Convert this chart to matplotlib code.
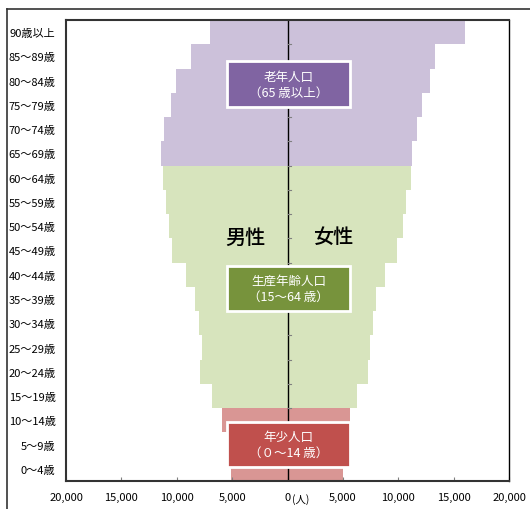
import numpy as np
import matplotlib
matplotlib.use("Agg")
import matplotlib.pyplot as plt
from matplotlib.patches import Rectangle
from matplotlib.lines import Line2D

plt.rcParams['font.family'] = ['Noto Sans CJK JP', 'DejaVu Sans']

# age groups, bottom to top
ages = ["0～4歳", "5～9歳", "10～14歳", "15～19歳", "20～24歳", "25～29歳",
        "30～34歳", "35～39歳", "40～44歳", "45～49歳", "50～54歳", "55～59歳",
        "60～64歳", "65～69歳", "70～74歳", "75～79歳", "80～84歳", "85～89歳",
        "90歳以上"]
male = [5090, 5350, 5900, 6830, 7920, 7680, 7980, 8340, 9180, 10390,
        10720, 10960, 11260, 11410, 11140, 10500, 10080, 8700, 6980]
female = [4970, 5400, 5640, 6300, 7290, 7470, 7710, 8010, 8830, 9880,
          10450, 10690, 11150, 11260, 11690, 12170, 12890, 13340, 16050]

xticks = [-20000, -15000, -10000, -5000, 0, 5000, 10000, 15000, 20000]
xticklabels = ["20,000", "15,000", "10,000", "5,000", "0", "5,000",
               "10,000", "15,000", "20,000"]

# group colours: (bar, label box)
col_young = ("#D99694", "#C0504D")
col_work = ("#D7E4BD", "#77933C")
col_old = ("#CCC1DA", "#8064A2")

fig = plt.figure(figsize=(5.3, 5.1), dpi=100)
ax = fig.add_axes([66 / 530, 28 / 510, 443 / 530, 461 / 510])

y = np.arange(len(ages))
colors = [col_young[0] if i < 3 else (col_work[0] if i < 13 else col_old[0])
          for i in range(len(ages))]
ax.barh(y, -np.array(male), height=1.0, color=colors, zorder=1)
ax.barh(y, female, height=1.0, color=colors, zorder=1)

ax.axvline(0, color="black", lw=1.0, zorder=2)
# small marks on the centre line at row boundaries
for b in y[:-1] + 0.5:
    ax.plot([0, 300], [b, b], color="#808080", lw=0.8, zorder=2)

ax.set_xlim(-20000, 20000)
ax.set_ylim(-0.5, len(ages) - 0.5)
ax.set_yticks(y)
ax.set_yticklabels(ages, fontsize=8)
ax.tick_params(axis="y", length=0, pad=7.5)
ax.set_xticks(xticks)
ax.set_xticklabels(xticklabels, fontsize=8)
ax.tick_params(axis="x", direction="in", length=3, color="#808080", pad=8)
ax.annotate("(人)", xy=(0, 0), xycoords=("data", "axes fraction"),
            xytext=(3.5, -12.5), textcoords="offset points", fontsize=7.5,
            ha="left", va="center")

for side in ["left", "top", "bottom"]:
    ax.spines[side].set_linewidth(1.5)
    ax.spines[side].set_color("#333333")
ax.spines["right"].set_linewidth(1.0)

# group label boxes
boxes = [
    (14.9, 16.82, col_old[1], "老年人口\n（65 歳以上）"),
    (6.52, 8.37, col_work[1], "生産年齢人口\n（15～64 歳）"),
    (0.09, 1.92, col_young[1], "年少人口\n（０～14 歳）"),
]
for y0, y1, fc, label in boxes:
    ax.add_patch(Rectangle((-5420, y0), 11080, y1 - y0, facecolor=fc,
                           edgecolor="white", lw=2, zorder=3))
    ax.text(120, (y0 + y1) / 2, label, color="white", fontsize=9,
            ha="center", va="center", linespacing=1.3, zorder=4)

ax.text(-3776, 9.56, "男性", fontsize=14.5, ha="center", va="center",
        fontweight="medium", zorder=4)
ax.text(4130, 9.56, "女性", fontsize=14.5, ha="center", va="center",
        fontweight="medium", zorder=4)

# outer frame (left and top edges visible)
fig.add_artist(Line2D([7 / 530, 7 / 530], [0, 1 - 9.5 / 510],
                      transform=fig.transFigure, color="#333333", lw=1.2))
fig.add_artist(Line2D([7 / 530, 1], [1 - 9.5 / 510, 1 - 9.5 / 510],
                      transform=fig.transFigure, color="#333333", lw=1.2))

fig.savefig("out.png", dpi=100)
